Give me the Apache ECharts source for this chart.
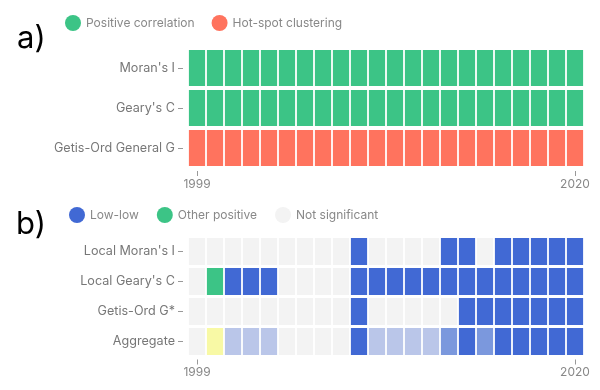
<!DOCTYPE html>
<html>
<head>
<meta charset="utf-8">
<script src="https://cdn.jsdelivr.net/npm/echarts@6/dist/echarts.min.js"></script>
<style>
html,body{margin:0;padding:0;background:#fff;}
#chart{width:600px;height:390px;}
</style>
</head>
<body>
<div id="chart"></div>
<script>
// ---- data ----
const years = ['1999','2000','2001','2002','2003','2004','2005','2006','2007','2008','2009','2010','2011','2012','2013','2014','2015','2016','2017','2018','2019','2020'];

// panel a) global statistics: P = positive correlation, H = hot-spot clustering
const globalRows = ["Moran's I", "Geary's C", "Getis-Ord General G"];
const globalMoran  = ['P','P','P','P','P','P','P','P','P','P','P','P','P','P','P','P','P','P','P','P','P','P'];
const globalGeary  = ['P','P','P','P','P','P','P','P','P','P','P','P','P','P','P','P','P','P','P','P','P','P'];
const globalGetis  = ['H','H','H','H','H','H','H','H','H','H','H','H','H','H','H','H','H','H','H','H','H','H'];

// panel b) local statistics: L = low-low, O = other positive, N = not significant
const localRows = ["Local Moran's I", "Local Geary's C", "Getis-Ord G*", "Aggregate"];
const localMoran = ['N','N','N','N','N','N','N','N','N','L','N','N','N','N','L','L','N','L','L','L','L','L'];
const localGeary = ['N','O','L','L','L','N','N','N','N','L','L','L','L','L','L','L','L','L','L','L','L','L'];
const localGetis = ['N','N','N','N','N','N','N','N','N','L','N','N','N','N','N','L','L','L','L','L','L','L'];
// aggregate: N none, Y other positive only, 1/2/3 = number of methods flagging low-low
const aggregate  = ['N','Y','1','1','1','N','N','N','N','3','1','1','1','1','2','3','2','3','3','3','3','3'];

// ---- categories -> series ----
const fontFam = 'Inter, "Noto Sans", sans-serif';
const catsA = [
  {code:'P', name:'Positive correlation', color:'#3cc486'},
  {code:'H', name:'Hot-spot clustering', color:'#ff735e'}
];
const catsB = [
  {code:'L', name:'Low-low', color:'#4169d4'},
  {code:'O', name:'Other positive', color:'#3cc486'},
  {code:'N', name:'Not significant', color:'#f3f3f3'},
  {code:'Y', name:'agg-other', color:'#f8f9a5'},
  {code:'1', name:'agg-1', color:'#bac6e9'},
  {code:'2', name:'agg-2', color:'#7b98dd'},
  {code:'3', name:'agg-3', color:'#4169d4'}
];

function renderCell(params, api){
  const c = api.coord([api.value(0), api.value(1)]);
  const s = api.size([1,1]);
  const w = s[0]*0.9, h = s[1]*0.9;
  return {type:'rect', shape:{x:c[0]-w/2, y:c[1]-h/2, width:w, height:h}, style:{fill:api.visual('color')}};
}

function buildSeries(rows, cats, axisIdx){
  return cats.map(cat => {
    const data = [];
    rows.forEach((row, yi) => row.forEach((v, xi) => { if (v === cat.code) data.push([xi, yi]); }));
    return {
      type:'custom', name:cat.name, xAxisIndex:axisIdx, yAxisIndex:axisIdx,
      renderItem:renderCell, itemStyle:{color:cat.color}, data:data,
      encode:{x:0, y:1}, silent:true
    };
  });
}

const seriesA = buildSeries([globalMoran, globalGeary, globalGetis], catsA, 0);
const seriesB = buildSeries([localMoran, localGeary, localGetis, aggregate], catsB, 1);

const edgeOnly = (i) => i === 0 || i === years.length - 1;

function xAxis(gi){
  return {
    type:'category', gridIndex:gi, data:years, position:'bottom', offset:3,
    axisLine:{show:false},
    axisTick:{show:true, interval:edgeOnly, alignWithLabel:true, length:5, lineStyle:{color:'#999'}},
    axisLabel:{interval:edgeOnly, margin:7, color:'#888', fontSize:12, fontFamily:fontFam},
    splitLine:{show:false}
  };
}
function yAxis(gi, rows){
  return {
    type:'category', gridIndex:gi, data:rows, inverse:true, offset:5,
    axisLine:{show:false},
    axisTick:{show:true, length:5, alignWithLabel:true, lineStyle:{color:'#999'}},
    axisLabel:{margin:8, color:'#777', fontSize:12.6, fontFamily:fontFam},
    splitLine:{show:false}
  };
}

const chart = echarts.init(document.getElementById('chart'), null, {renderer:'canvas'});
chart.setOption({
  animation:false,
  backgroundColor:'#fff',
  title:[
    {text:'a)', left:17, top:23, padding:0, textStyle:{fontSize:31, fontWeight:'normal', color:'#000', fontFamily:fontFam}},
    {text:'b)', left:16, top:209, padding:0, textStyle:{fontSize:31, fontWeight:'normal', color:'#000', fontFamily:fontFam}}
  ],
  legend:[
    {data:catsA.map(c=>c.name), left:65, top:15, padding:0, icon:'circle', itemWidth:16, itemHeight:16, itemGap:17,
     textStyle:{color:'#888', fontSize:12, fontFamily:fontFam}, selectedMode:false},
    {data:catsB.slice(0,3).map(c=>c.name), left:69, top:207, padding:0, icon:'circle', itemWidth:16, itemHeight:16, itemGap:18,
     textStyle:{color:'#888', fontSize:12, fontFamily:fontFam}, selectedMode:false}
  ],
  grid:[
    {left:188, right:16, top:48, height:120},
    {left:188, right:16, top:236.5, height:120}
  ],
  xAxis:[xAxis(0), xAxis(1)],
  yAxis:[yAxis(0, globalRows), yAxis(1, localRows)],
  series:[...seriesA, ...seriesB]
});
</script>
</body>
</html>
